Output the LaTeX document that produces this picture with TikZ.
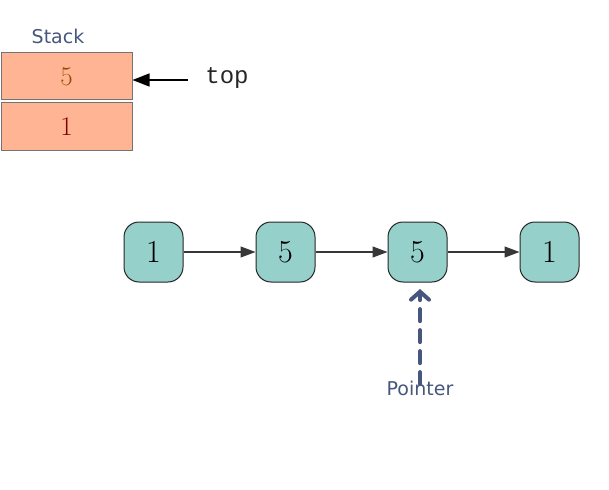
\documentclass[tikz,border=0pt]{standalone}
\usepackage{fontspec}
\newfontfamily\labelfont{DejaVu Sans}
\newfontfamily\codefont{Liberation Mono}
\usetikzlibrary{arrows.meta, positioning}
\definecolor{stackfill}{RGB}{255, 180, 148}
\definecolor{nodefill}{RGB}{150, 208, 203}
\definecolor{slateblue}{RGB}{70, 86, 124}
\definecolor{linkgray}{RGB}{55, 55, 55}

\begin{document}
\begin{tikzpicture}[x=1pt, y=-1pt,
  cell/.style={draw=gray!90!black, line width=1pt, fill=stackfill, minimum width=131pt, minimum height=47pt, inner sep=0pt, font=\fontsize{27}{27}\selectfont},
  listnode/.style={draw=black!85, line width=1pt, fill=nodefill, rounded corners=15pt, minimum width=59pt, minimum height=60pt, inner sep=0pt, font=\fontsize{32}{32}\selectfont},
  link/.style={linkgray, line width=1.2pt, -{Triangle[length=15pt, width=11pt]}}]
  \useasboundingbox (0,0) rectangle (609,489);

  % stack
  \node[cell, text=orange!60!black] (s5) at (66.5,76.5) {5};
  \node[cell, text=red!50!black] (s1) at (66.5,126.5) {1};
  \node[text=slateblue, font=\labelfont\fontsize{19}{19}\selectfont] (stk) at (58,36) {Stack};
  \node[font=\codefont\fontsize{24}{24}\selectfont, text=black!85] (top) at (227,78) {top};
  \draw[line width=1.4pt, -{Triangle[length=17pt, width=13pt]}] (top.west) ++(-14pt,-2pt) coordinate (tw) (tw) -- (s5.east |- tw);

  % linked list
  \node[listnode] (a) at (153.5,252) {1};
  \node[listnode] (b) at (285.5,252) {5};
  \node[listnode] (c) at (417.5,252) {5};
  \node[listnode] (d) at (549.5,252) {1};
  \draw[link] (a) -- (b);
  \draw[link] (b) -- (c);
  \draw[link] (c) -- (d);

  % pointer
  \node[text=slateblue, font=\labelfont\fontsize{19}{19}\selectfont] (ptr) at (420,388) {Pointer};
  \coordinate (ptip) at (420,289);
  \draw[slateblue, line width=4pt, line cap=round, dash pattern=on 12pt off 9pt,
    -{Straight Barb[length=8pt, width=18pt, line cap=round]}] (ptr.north) ++(0,-7pt) coordinate (pb) (pb) -- (ptip);
\end{tikzpicture}
\end{document}
